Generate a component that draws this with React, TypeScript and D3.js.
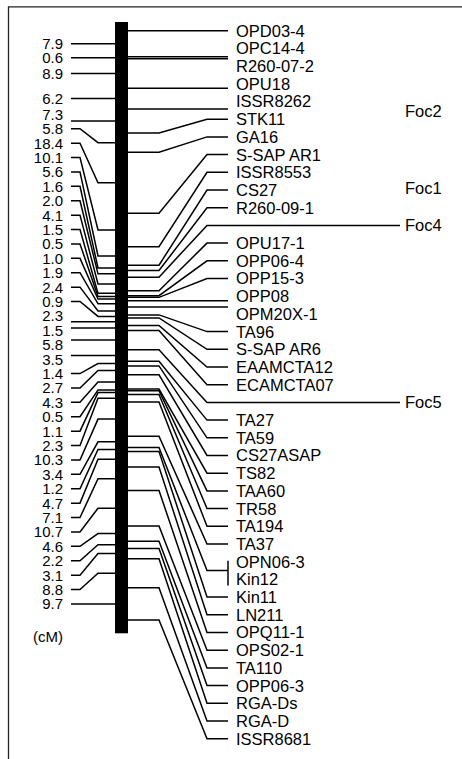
import React from "react";
import * as d3 from "d3";

// Loci from top to bottom (co-segregating markers share one locus)
const locusLabels: string[][] = [
  ["OPD03-4"], ["OPC14-4"], ["R260-07-2"], ["OPU18"], ["ISSR8262"], ["STK11"], ["GA16"],
  ["S-SAP AR1"], ["ISSR8553"], ["CS27"], ["R260-09-1"], ["Foc4"], ["OPU17-1"], ["OPP06-4"],
  ["OPP15-3"], ["OPP08"], ["OPM20X-1"], ["TA96"], ["S-SAP AR6"], ["EAAMCTA12"], ["ECAMCTA07"],
  ["Foc5"], ["TA27"], ["TA59"], ["CS27ASAP"], ["TS82"], ["TAA60"], ["TR58"], ["TA194"], ["TA37"],
  ["OPN06-3", "Kin12"], ["Kin11"], ["LN211"], ["OPQ11-1"], ["OPS02-1"], ["TA110"], ["OPP06-3"],
  ["RGA-Ds"], ["RGA-D"], ["ISSR8681"],
];

// Distances (cM) between adjacent loci
const intervals = [
  7.9, 0.6, 8.9, 6.2, 7.3, 5.8, 18.4, 10.1, 5.6, 1.6,
  2.0, 4.1, 1.5, 0.5, 1.0, 1.9, 2.4, 0.9, 2.3, 1.5,
  5.8, 3.5, 1.4, 2.7, 4.3, 0.5, 1.1, 2.3, 10.3, 3.4,
  1.2, 4.7, 7.1, 10.7, 4.6, 2.2, 3.1, 8.8, 9.7,
];

const traitLoci = ["Foc4", "Foc5"];
const sideTraits = ["Foc2", "Foc1"];
const sideTraitCM = [24.2, 47.5];
const unitLabel = "(cM)";

// min-spacing label layout (isotonic regression with bounds)
function layout(desired: number[], gap: number, lo: number, hi: number): number[] {
  const n = desired.length;
  const e = desired.map((d, i) => d - gap * i);
  const blocks: { sum: number; count: number }[] = [];
  for (const v of e) {
    blocks.push({ sum: v, count: 1 });
    while (blocks.length > 1) {
      const a = blocks[blocks.length - 2];
      const b = blocks[blocks.length - 1];
      if (a.sum / a.count > b.sum / b.count) {
        blocks.pop();
        a.sum += b.sum;
        a.count += b.count;
      } else break;
    }
  }
  const z: number[] = [];
  blocks.forEach((b) => {
    for (let k = 0; k < b.count; k++) z.push(b.sum / b.count);
  });
  const zhi = hi - gap * (n - 1);
  return z.map((v, i) => Math.min(Math.max(v, lo), zhi) + gap * i);
}

const FONT = "'Liberation Sans', Arial, Helvetica, sans-serif";

export default function App() {
  const W = 462, H = 759;
  const pos = Array.from(d3.cumsum([0, ...intervals]) as unknown as number[]);
  const total = pos[pos.length - 1];
  const y = d3.scaleLinear().domain([0, total]).range([30.7, 620]);

  const barL = 115, barR = 128;
  const barTop = y(0) - 8.7, barBottom = y(total) + 13.3;

  // right labels
  const flat: { name: string; locus: number }[] = [];
  locusLabels.forEach((names, i) => names.forEach((nm) => flat.push({ name: nm, locus: i })));
  const rightY = layout(flat.map((f) => y(pos[f.locus])), 17.7, y(0), Infinity);

  // left labels (interval midpoints)
  const mids = intervals.map((_, i) => y((pos[i] + pos[i + 1]) / 2));
  const leftY = layout(mids, 14.4, -Infinity, mids[mids.length - 1]);

  const rx1 = barR + 31, rx2 = 207, rx3 = 228, rText = 236;
  const lx1 = 98, lx2 = 80, lx3 = 71, lText = 63;
  const straightTol = 9;

  const stroke = "#000";
  const sw = 1.5;

  const rightConnectors = locusLabels.map((names, i) => {
    const idx = flat.map((f, k) => (f.locus === i ? k : -1)).filter((k) => k >= 0);
    const ys = idx.map((k) => rightY[k]);
    const by = y(pos[i]);
    let ly = d3.mean(ys) as number;
    if (names.length === 1 && Math.abs(ly - by) < straightTol) ly = by;
    const isTrait = traitLoci.includes(names[0]);
    const end = isTrait ? 400 : rx3;
    const p = d3.path();
    p.moveTo(barR, by);
    p.lineTo(rx1, by);
    p.lineTo(rx2, ly);
    p.lineTo(end, ly);
    return (
      <g key={"rc" + i}>
        <path d={p.toString()} fill="none" stroke={stroke} strokeWidth={sw} />
        {names.length > 1 && (
          <line x1={rx3} x2={rx3} y1={ys[0] - 1} y2={ys[ys.length - 1] + 6} stroke={stroke} strokeWidth={sw} />
        )}
      </g>
    );
  });

  return (
    <svg width={W} height={H} style={{ position: "absolute", left: 0, top: 0, background: "#fff" }}>
      <rect x={0} y={0} width={W} height={H} fill="#fff" />
      <path d={`M8.5,${H} V6.8 H${W}`} fill="none" stroke="#222" strokeWidth={1.3} />

      {rightConnectors}

      {flat.map((f, k) => {
        const isTrait = traitLoci.includes(f.name);
        return (
          <text key={"rt" + k} x={isTrait ? 405 : rText} y={rightY[k]} dy="0.36em"
            fontFamily={FONT} fontSize={16.5} fill="#000">{f.name}</text>
        );
      })}

      {sideTraits.map((t, i) => (
        <text key={"st" + i} x={405} y={y(sideTraitCM[i])} dy="0.36em" fontFamily={FONT} fontSize={16.5} fill="#000">{t}</text>
      ))}

      {intervals.map((v, i) => {
        const ly = Math.abs(leftY[i] - mids[i]) < straightTol - 1 ? mids[i] : leftY[i];
        const p = d3.path();
        p.moveTo(barL, mids[i]);
        p.lineTo(lx1, mids[i]);
        p.lineTo(lx2, ly);
        p.lineTo(lx3, ly);
        return (
          <g key={"l" + i}>
            <path d={p.toString()} fill="none" stroke={stroke} strokeWidth={sw} />
            <text x={lText} y={leftY[i]} dy="0.36em" textAnchor="end" fontFamily={FONT} fontSize={15} fill="#000">
              {v.toFixed(1)}
            </text>
          </g>
        );
      })}

      <rect x={barL} y={barTop} width={barR - barL} height={barBottom - barTop} fill="#000" />

      <text x={lText} y={barBottom + 3.4} dy="0.36em" textAnchor="end" fontFamily={FONT} fontSize={15} fill="#000">{unitLabel}</text>
    </svg>
  );
}
